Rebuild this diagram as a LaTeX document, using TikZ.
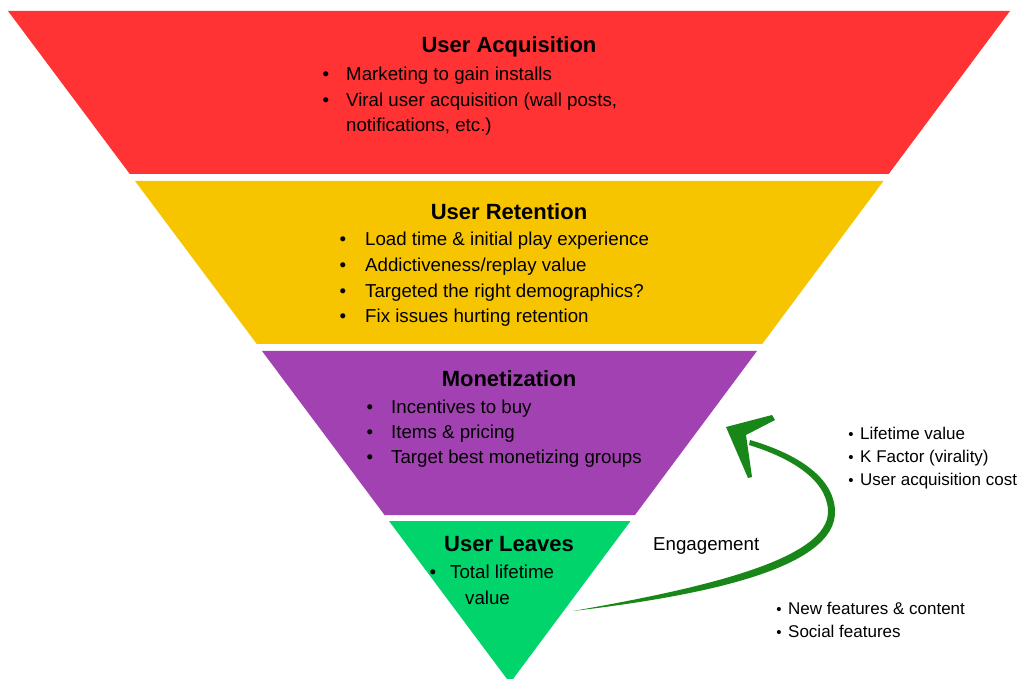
\documentclass[tikz,border=0pt]{standalone}
\usepackage{fontspec}
\setmainfont{Liberation Sans}
\usepackage{tikz}
\usetikzlibrary{calc}
\definecolor{acqred}{RGB}{255,51,51}
\definecolor{retyellow}{RGB}{247,197,0}
\definecolor{monpurple}{RGB}{162,66,178}
\definecolor{leavegreen}{RGB}{0,212,106}
\definecolor{brushgreen}{RGB}{24,134,24}
\tikzset{
  head/.style={font=\fontsize{22}{26}\selectfont\bfseries, inner sep=0pt, anchor=base},
  item/.style={font=\fontsize{18.7}{26}\selectfont, inner sep=0pt, anchor=base west},
  dot/.style={font=\fontsize{18.7}{26}\selectfont, inner sep=0pt, anchor=base},
  note/.style={font=\fontsize{17}{23}\selectfont, inner sep=0pt, anchor=base west},
  smalldot/.style={font=\fontsize{15}{23}\selectfont, inner sep=0pt, anchor=base},
  brush/.style={brushgreen, line width=5pt, line cap=round}
}
\begin{document}
\begin{tikzpicture}[x=1pt,y=-1pt]
                    \useasboundingbox (0,0) rectangle (1021,679);
                    \fill[acqred] (8,11) -- (1010,11) -- (888.7,174) -- (129.8,174) -- cycle;
                    \fill[retyellow] (135,181) -- (883.5,181) -- (762.2,344) -- (256.8,344) -- cycle;
                    \fill[monpurple] (262,351) -- (757,351) -- (635,515) -- (384.5,515) -- cycle;
                    \fill[leavegreen] (389,521) -- (630.6,521) -- (510,683) -- cycle;
                    % user acquisition
                    \node[head] (acq) at (509,53) {User Acquisition};
                    \node[dot] (acqb1) at (326,81) {•};
                    \node[item] (acq1) at (346,81) {Marketing to gain installs};
                    \node[dot] (acqb2) at (326,106.5) {•};
                    \node[item] (acq2) at (346,106.5) {Viral user acquisition (wall posts,};
                    \node[item] (acq3) at (346,132) {notifications, etc.)};
                    % user retention
                    \node[head] (ret) at (509,219.3) {User Retention};
                    \node[dot] (retb1) at (343,246) {•};
                    \node[item] (ret1) at (365,246) {Load time \& initial play experience};
                    \node[dot] (retb2) at (343,271.6) {•};
                    \node[item] (ret2) at (365,271.6) {Addictiveness/replay value};
                    \node[dot] (retb3) at (343,297.2) {•};
                    \node[item] (ret3) at (365,297.2) {Targeted the right demographics?};
                    \node[dot] (retb4) at (343,322.7) {•};
                    \node[item] (ret4) at (365,322.7) {Fix issues hurting retention};
                    % monetization
                    \node[head] (mon) at (509,386.7) {Monetization};
                    \node[dot] (monb1) at (370,413.3) {•};
                    \node[item] (mon1) at (391,413.3) {Incentives to buy};
                    \node[dot] (monb2) at (370,438.3) {•};
                    \node[item] (mon2) at (391,438.3) {Items \& pricing};
                    \node[dot] (monb3) at (370,463.3) {•};
                    \node[item] (mon3) at (391,463.3) {Target best monetizing groups};
                    % user leaves
                    \node[head] (lea) at (509,551.7) {User Leaves};
                    \node[dot] (leab1) at (433,578.3) {•};
                    \node[item] (lea1) at (450,578.3) {Total lifetime};
                    \node[item] (lea2) at (465,604) {value};
                    % engagement loop
                    \coordinate (tail) at (573,611);
                    \coordinate (tip) at (726,427);
                    \fill[brushgreen] (tail) .. controls (700,596) and (838,569) .. (835,510)
                      .. controls (833,474) and (791,452) .. (750,440)
                      -- (749,445) .. controls (788,457) and (826,478) .. (828,510)
                      .. controls (831,560) and (698,589) .. (tail) -- cycle;
                    \fill[brushgreen] (tip) -- (772,415) -- (775,420) -- (746,435)
                      -- (752,477) -- (748,478) -- cycle;
                    \node[item] (eng) at (653,550.7) {Engagement};
                    \node[smalldot] (kpib1) at (851,439) {•};
                    \node[note] (kpi1) at (860,439) {Lifetime value};
                    \node[smalldot] (kpib2) at (851,462.3) {•};
                    \node[note] (kpi2) at (860,462.3) {K Factor (virality)};
                    \node[smalldot] (kpib3) at (851,485.7) {•};
                    \node[note] (kpi3) at (860,485.7) {User acquisition cost};
                    \node[smalldot] (newb1) at (779,614.3) {•};
                    \node[note] (new1) at (788,614.3) {New features \& content};
                    \node[smalldot] (newb2) at (779,637.7) {•};
                    \node[note] (new2) at (788,637.7) {Social features};
                  \end{tikzpicture}
\end{document}
